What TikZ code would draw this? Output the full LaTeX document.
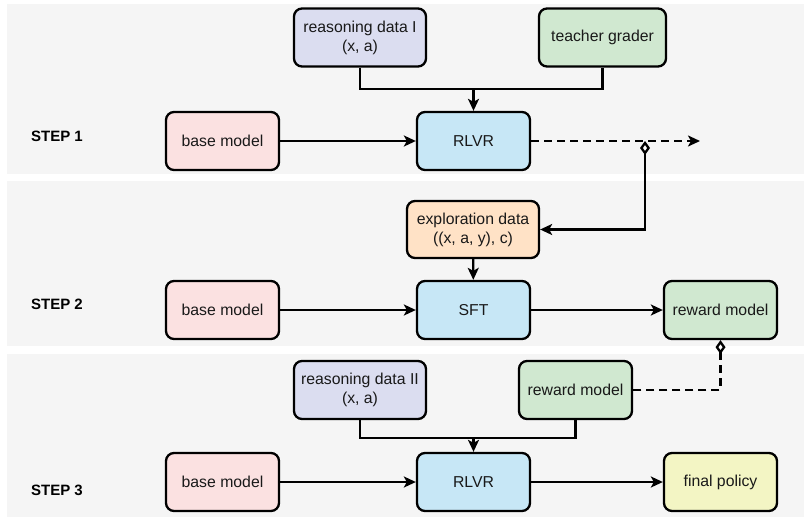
\documentclass[tikz,border=0pt]{standalone}
\usepackage{fontspec}
\setmainfont{Liberation Sans}
\usetikzlibrary{arrows.meta}

\definecolor{panelgray}{HTML}{F5F5F5}
\definecolor{basepink}{HTML}{FBE1E1}
\definecolor{rlvrblue}{HTML}{C7E7F6}
\definecolor{datablue}{HTML}{DBDDF0}
\definecolor{gradergreen}{HTML}{D0E8D0}
\definecolor{exploreorange}{HTML}{FFE2C6}
\definecolor{policyyellow}{HTML}{F3F5C4}

\begin{document}
\begin{tikzpicture}[x=1pt, y=-1pt]
   \tikzstyle{box}=[draw, line width=2.3pt, rounded corners=8pt, minimum width=113pt, minimum height=58pt, align=center, text=black!90, font=\fontsize{15.8}{19}\selectfont]
   \tikzstyle{steplabel}=[font=\fontsize{15}{18}\selectfont\bfseries]
   \tikzstyle{link}=[line width=2.3pt, -{Stealth[length=12pt, width=11pt, inset=3pt]}]
   \tikzstyle{feed}=[line width=2.3pt, dash pattern=on 8pt off 5pt]

\useasboundingbox (0,0) rectangle (804,520);
\fill[panelgray] (7,4) rectangle (804,174);
\fill[panelgray] (7,181) rectangle (804,346);
\fill[panelgray] (7,354) rectangle (804,517);

% step 1
\node[steplabel] (step1) at (57,136) {STEP 1};
\node[box, fill=datablue, minimum width=132pt] (data1) at (360,37.5) {reasoning data I\\(x, a)};
\node[box, fill=gradergreen, minimum width=127pt] (grader) at (602.5,37.5) {teacher grader};
\node[box, fill=basepink] (base1) at (222.5,141) {base model};
\node[box, fill=rlvrblue] (rlvr1) at (473.5,141) {RLVR};
\coordinate (join1) at (473.5,89);
\coordinate (out1) at (700,141);
\coordinate (tap1) at (645,141);

\draw[line width=2.3pt] (data1.south) |- (join1) -| (grader.south);
\draw[link] (join1) -- (rlvr1.north);
\draw[link] (base1) -- (rlvr1);
\draw[feed, -{Stealth[length=12pt, width=11pt, inset=3pt]}] (rlvr1.east) -- (out1);

% step 2
\node[steplabel] (step2) at (57,304) {STEP 2};
\node[box, fill=exploreorange, minimum width=132pt, minimum height=57pt] (explore) at (473,229.5) {exploration data\\((x, a, y), c)};
\node[box, fill=basepink] (base2) at (222.5,310) {base model};
\node[box, fill=rlvrblue] (sft) at (473.5,310) {SFT};
\node[box, fill=gradergreen] (reward2) at (720.5,310) {reward model};

\draw[link, {Diamond[fill=white, length=14pt, width=10pt]}-{Stealth[length=12pt, width=11pt, inset=3pt]}] (tap1) |- (explore.east);
\draw[link] (explore) -- (sft);
\draw[link] (base2) -- (sft);
\draw[link] (sft) -- (reward2);

% step 3
\node[steplabel] (step3) at (57,490) {STEP 3};
\node[box, fill=datablue, minimum width=132pt] (data2) at (360,390) {reasoning data II\\(x, a)};
\node[box, fill=gradergreen] (reward3) at (575.5,390) {reward model};
\node[box, fill=basepink] (base3) at (222.5,482) {base model};
\node[box, fill=rlvrblue] (rlvr3) at (473.5,482) {RLVR};
\node[box, fill=policyyellow] (policy) at (720.5,482) {final policy};
\coordinate (join3) at (473.5,438);

\draw[feed, {Diamond[fill=white, length=14pt, width=10pt]}-] (reward2.south) |- (reward3.east);
\draw[line width=2.3pt] (data2.south) |- (join3) -| (reward3.south);
\draw[link] (join3) -- (rlvr3.north);
\draw[link] (base3) -- (rlvr3);
\draw[link] (rlvr3) -- (policy);

\end{tikzpicture}
\end{document}
